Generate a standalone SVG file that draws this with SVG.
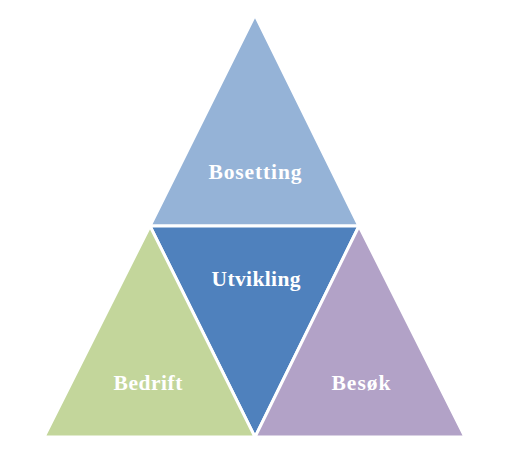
<svg xmlns="http://www.w3.org/2000/svg" width="513" height="452" viewBox="0 0 513 452">
<style>
.t{stroke:#fff;stroke-width:3;stroke-linejoin:miter}
.l{font-family:"Liberation Serif",serif;font-weight:bold;font-size:21.5px;fill:#fff;text-anchor:middle}
</style>
<rect width="513" height="452" fill="#fff"/>
<g id="bosetting"><polygon class="t" points="255,15 150,226 359,226" fill="#95B3D7"/><text class="l" x="255" y="179" textLength="93" lengthAdjust="spacing">Bosetting</text></g>
<g id="utvikling"><polygon class="t" points="150,226 359,226 255,437" fill="#4F81BD"/><text class="l" x="256" y="286" textLength="89" lengthAdjust="spacing">Utvikling</text></g>
<g id="bedrift"><polygon class="t" points="150,226 44,437 255,437" fill="#C3D69B"/><text class="l" x="148" y="390" textLength="69" lengthAdjust="spacing">Bedrift</text></g>
<g id="besok"><polygon class="t" points="359,226 255,437 465,437" fill="#B2A2C7"/><text class="l" x="361" y="390" textLength="59" lengthAdjust="spacing">Besøk</text></g>
<g id="connectors"/>
</svg>
